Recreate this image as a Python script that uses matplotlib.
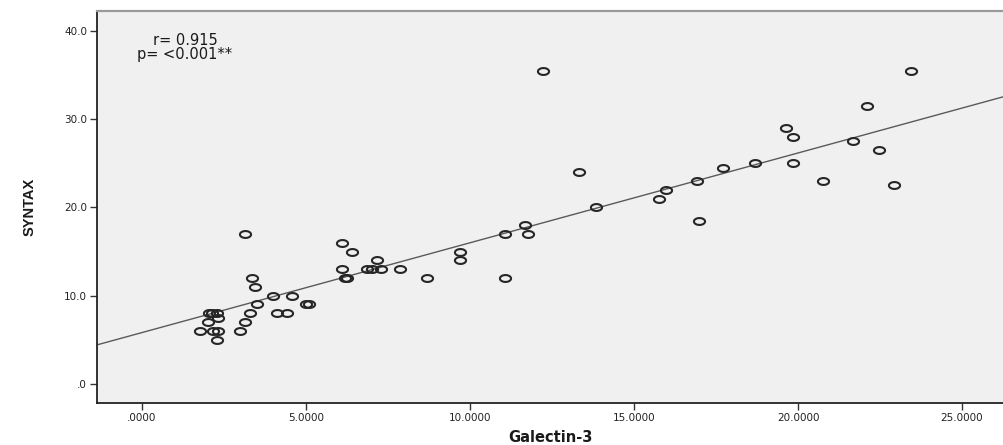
import numpy as np
import matplotlib
matplotlib.use("Agg")
import matplotlib.pyplot as plt
from matplotlib.path import Path

# ---- data ----
galectin = [
    23.44, 22.11, 21.69, 22.46, 20.75, 22.94,
    12.22, 19.63, 19.84, 19.86, 18.70, 17.70, 16.91, 16.99, 15.98, 15.77,
    13.31, 13.84, 11.68, 11.78, 11.07, 11.07, 9.70, 9.70, 8.70,
    6.09, 6.41, 7.16, 6.09, 6.85, 7.00, 7.29, 7.87, 6.18, 6.25, 5.00, 5.10,
    3.14, 3.34, 3.45, 4.00, 4.56, 3.50, 3.29, 4.11, 4.43,
    2.05, 2.15, 2.28, 2.02, 2.33, 3.14, 1.77, 2.17, 2.33, 2.99, 2.30,
]
syntax = [
    35.5, 31.5, 27.5, 26.5, 23.0, 22.5,
    35.5, 29.0, 28.0, 25.0, 25.0, 24.5, 23.0, 18.5, 22.0, 21.0,
    24.0, 20.0, 18.0, 17.0, 17.0, 12.0, 15.0, 14.0, 12.0,
    16.0, 15.0, 14.0, 13.0, 13.0, 13.0, 13.0, 13.0, 12.0, 12.0, 9.0, 9.0,
    17.0, 12.0, 11.0, 10.0, 10.0, 9.0, 8.0, 8.0, 8.0,
    8.0, 8.0, 8.0, 7.0, 7.5, 7.0, 6.0, 6.0, 6.0, 6.0, 5.0,
]
# fit line as drawn in the reference
fit_intercept = 5.82
fit_slope = 1.017

x_ticks = [0, 5, 10, 15, 20, 25]
x_tick_labels = [".0000", "5.0000", "10.0000", "15.0000", "20.0000", "25.0000"]
y_ticks = [0, 10, 20, 30, 40]
y_tick_labels = [".0", "10.0", "20.0", "30.0", "40.0"]
stats_text = "r= 0.915\np= <0.001**"

# ---- figure ----
W, H = 1004, 445
fig = plt.figure(figsize=(W / 100, H / 100), dpi=100)
fig.patch.set_facecolor("white")
left_px, right_px, top_px, bottom_px = 96.7, 1004, 11, 403.3
ax = fig.add_axes([left_px / W, 1 - bottom_px / H,
                   (right_px - left_px) / W, (bottom_px - top_px) / H])
ax.set_facecolor("#f0f0f0")

xlim = (-1.38, 26.28)
ylim = (-2.19, 42.24)
ax.set_xlim(*xlim)
ax.set_ylim(*ylim)

# elliptical open marker (as in the reference)
t = np.linspace(0, 2 * np.pi, 50)
ell = Path(np.column_stack([np.cos(t), 0.62 * np.sin(t)]), closed=True)

ax.plot(galectin, syntax, linestyle="none", marker=ell, markersize=8.0,
        markerfacecolor="none", markeredgecolor="#262626",
        markeredgewidth=1.5, zorder=3)

# regression line
ax.axline((0, fit_intercept), slope=fit_slope, color="#5a5a5a",
          linewidth=1.0, zorder=2)

# annotation
ax.text((185 - left_px) / (right_px - left_px), (bottom_px - 47.5) / (bottom_px - top_px),
        stats_text, transform=ax.transAxes, ha="center", va="center",
        multialignment="center", linespacing=0.95,
        fontsize=10.5, family=["DejaVu Sans"], color="#1a1a1a")

# ticks
tick_font = ["DejaVu Sans"]
ax.set_xticks(x_ticks)
ax.set_xticklabels(x_tick_labels, family=tick_font, fontsize=7.5, color="#222222")
ax.set_yticks(y_ticks)
ax.set_yticklabels(y_tick_labels, family=tick_font, fontsize=7.5, color="#222222")
ax.tick_params(axis="both", direction="out", length=5, width=1.0,
               color="#333333", pad=2)

# spines
ax.spines["right"].set_visible(False)
ax.spines["top"].set_color("#9a9a9a")
ax.spines["top"].set_linewidth(1.6)
for s in ("left", "bottom"):
    ax.spines[s].set_color("#222222")
    ax.spines[s].set_linewidth(1.3)

ax.set_xlabel("Galectin-3", family=["DejaVu Sans"], fontsize=10.5, fontweight="bold",
              color="#1a1a1a", labelpad=5)
ax.set_ylabel("SYNTAX", family=["Liberation Sans Narrow", "Liberation Sans", "DejaVu Sans"],
              fontsize=10.5, fontweight="bold", color="#1a1a1a", labelpad=20)

fig.savefig("out.png", dpi=100, facecolor="white")
